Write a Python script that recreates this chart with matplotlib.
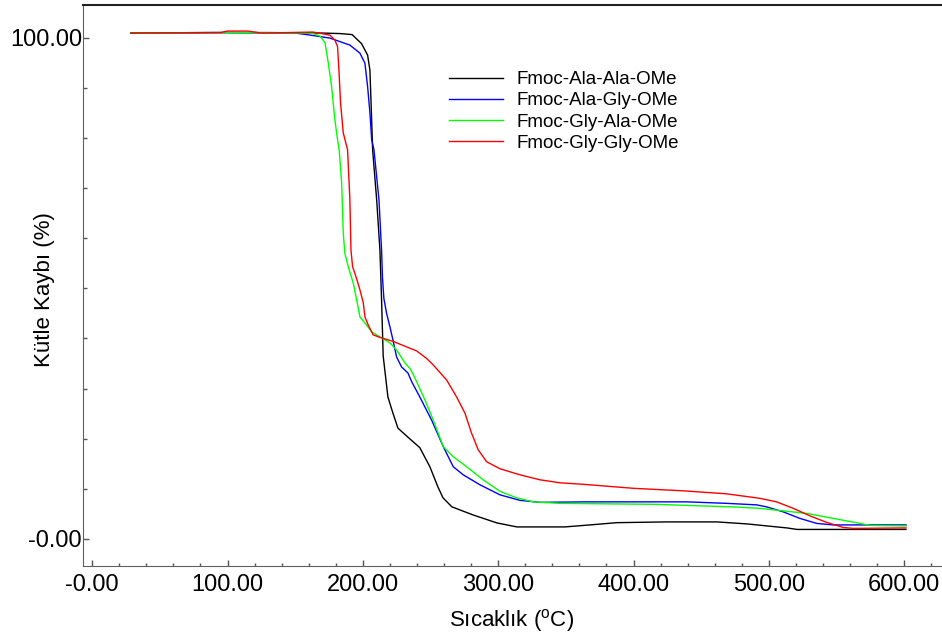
import matplotlib.pyplot as plt
from matplotlib.ticker import FixedLocator, MultipleLocator, FuncFormatter

plt.rcParams['font.family'] = ['Liberation Sans', 'DejaVu Sans']
plt.rcParams['mathtext.fontset'] = 'custom'
plt.rcParams['mathtext.rm'] = 'Liberation Sans'

labels = ["Fmoc-Ala-Ala-OMe", "Fmoc-Ala-Gly-OMe", "Fmoc-Gly-Ala-OMe", "Fmoc-Gly-Gly-OMe"]
colors = ["black", "#0000ff", "#00ff00", "#ff0000"]

# Fmoc-Ala-Ala-OMe
t_aa = [28.6, 80, 130, 170, 183, 192, 199, 203.5, 205.2, 206.3, 207.2, 210.2, 212.6,
        213.8, 215.0, 218.5, 222.2, 225.9, 233.3, 242.1, 249.5, 255.4, 259.2, 265.8,
        281.3, 299, 313.8, 349.3, 367.8, 387.7, 424.7, 461.6, 483.8, 498.5, 513.3,
        520.7, 601.2]
m_aa = [100.9, 101.0, 101.0, 100.9, 100.8, 100.6, 98.8, 96.5, 93.5, 85, 77.6, 67.6, 57.6,
        47.7, 36.5, 28.3, 25.1, 22.1, 20.3, 18.2, 14.4, 10.4, 8.2, 6.4,
        4.8, 3.2, 2.4, 2.4, 2.8, 3.25, 3.4, 3.4, 3.0, 2.6, 2.2,
        1.9, 1.9]

# Fmoc-Ala-Gly-OMe
t_ag = [28.6, 100, 150, 160.9, 175.6, 190.4, 197.8, 201.5, 203.5, 205.2, 206.5, 208.2,
        211.9, 213.8, 214.5, 215.5, 217.5, 220, 222.2, 224.9, 228.6, 233.3, 236,
        242.1, 250.8, 259.4, 266.8, 274.1, 286.5, 301.3, 316, 330.8, 365.3, 439.2,
        468.8, 490.9, 498.3, 510.6, 522.9, 535.3, 547.3, 601.3]
m_ag = [100.9, 101.0, 100.9, 100.5, 99.9, 98.5, 96.9, 94.9, 90.2, 85, 79.6, 77.6,
        67.6, 57.6, 52, 48, 45, 42.3, 39.7, 36.3, 34.3, 33.1, 31.4,
        28.3, 23.7, 18.4, 14.4, 12.8, 10.8, 8.8, 7.7, 7.3, 7.4, 7.4,
        7.1, 6.8, 6.4, 5.4, 4.1, 3.1, 2.8, 2.8]

# Fmoc-Gly-Ala-OMe
t_ga = [28.6, 100, 160, 163.1, 168.3, 172, 174.4, 176.9, 179.3, 181.3, 182.5, 184.3,
        185.5, 186.7, 189.2, 192.9, 195.4, 197.8, 201.5, 206.5, 213.8, 220, 224.9,
        231.1, 234.8, 238.5, 245.9, 252, 259.4, 266.8, 276.7, 288.9, 301.3, 313.6,
        325.9, 345.6, 417.1, 449.1, 473.6, 493.4, 510.6, 527.9, 547.5, 567.3, 575,
        601.3]
m_ga = [100.9, 101.0, 100.9, 100.8, 100.3, 99, 95, 90.2, 83.6, 79.6, 77.6, 71,
        61, 57, 54.3, 51, 47.7, 44.3, 43.1, 41.3, 40.1, 39.1, 37.7,
        35.1, 34.0, 32.1, 27.7, 23.7, 18.4, 16.4, 14.4, 11.8, 9.5, 8.2,
        7.4, 7.1, 6.9, 6.6, 6.4, 6.1, 5.6, 5.1, 4.1, 3.1, 2.7,
        2.6]

# Fmoc-Gly-Gly-OMe
t_gg = [28.6, 95, 100, 115, 125, 163.1, 175.6, 179.3, 181.3, 182.3, 183.5, 185.5,
        188.7, 190.4, 191.2, 192.4, 194.9, 197.8, 200.3, 201.5, 203.9, 207.6, 212.6,
        222.4, 239.7, 247.1, 252, 261.9, 269.3, 275.4, 280.3, 285.2, 291.4, 301.3,
        316, 330.8, 345.6, 362.8, 399.8, 436.7, 468.8, 493.4, 505.7, 518, 530.4,
        542.7, 554.9, 562.3, 601.3]
m_gg = [100.9, 101.0, 101.3, 101.3, 100.9, 101.1, 100.5, 99.5, 98.2, 93.5, 87, 81,
        77.6, 67.6, 57.6, 54.3, 52.3, 49.7, 47.1, 44.3, 42.7, 40.7, 40.2,
        39.4, 37.5, 36.0, 34.7, 31.7, 28.3, 25.1, 21.1, 17.8, 15.4, 14.0,
        12.8, 11.8, 11.2, 10.9, 10.1, 9.6, 9.0, 8.1, 7.4, 6.1, 4.6,
        3.3, 2.3, 2.1, 2.2]

series = [(t_aa, m_aa), (t_ag, m_ag), (t_ga, m_ga), (t_gg, m_gg)]

fig = plt.figure(figsize=(9.42, 6.39), dpi=100)
ax = fig.add_axes([0.0884, 0.1142, 0.9116, 0.878])

for (t, m), lab, c in zip(series, labels, colors):
    ax.plot(t, m, color=c, lw=1.0, label=lab)

ax.set_xlim(-6.6, 627.9)
ax.set_ylim(-5.4, 106.5)

fmt = FuncFormatter(lambda v, p: "-0.00" if abs(v) < 1e-9 else f"{v:.2f}")
ax.xaxis.set_major_locator(MultipleLocator(100))
ax.xaxis.set_minor_locator(MultipleLocator(20))
ax.yaxis.set_major_locator(FixedLocator([0, 100]))
ax.yaxis.set_minor_locator(MultipleLocator(10))
ax.xaxis.set_major_formatter(fmt)
ax.yaxis.set_major_formatter(fmt)

ax.tick_params(axis='x', which='major', direction='in', length=4, width=1, pad=6,
               labelsize=17, color='#555555')
ax.tick_params(axis='x', which='minor', direction='in', length=2, width=1, color='#555555')
ax.tick_params(axis='y', which='major', direction='in', length=4.5, width=1, pad=1,
               labelsize=17, color='#555555')
ax.tick_params(axis='y', which='minor', direction='in', length=3, width=1, color='#555555')

ax.spines['right'].set_visible(False)
ax.spines['left'].set_color('#606060')
ax.spines['bottom'].set_color('#606060')
ax.spines['top'].set_color('#222222')
ax.spines['top'].set_linewidth(1.5)

ax.set_xlabel("Sıcaklık ($^{\\mathrm{o}}$C)", fontsize=16)
ax.set_ylabel("Kütle Kaybı (%)", fontsize=16)
# label positions (figure pixels)
ax.xaxis.set_label_coords(512 / 942, 1 - 621 / 639, transform=fig.transFigure)
ax.xaxis.label.set_verticalalignment('center')
ax.yaxis.set_label_coords(45 / 942, 1 - 290 / 639, transform=fig.transFigure)
ax.yaxis.label.set_verticalalignment('center')

ax.legend(loc='upper left', bbox_to_anchor=(449 / 942, 1 - 71 / 639),
          bbox_transform=fig.transFigure, frameon=False, fontsize=13.5,
          handlelength=2.9, handletextpad=0.7, labelspacing=0.22,
          borderpad=0, borderaxespad=0)

fig.savefig("out.png", dpi=100)
